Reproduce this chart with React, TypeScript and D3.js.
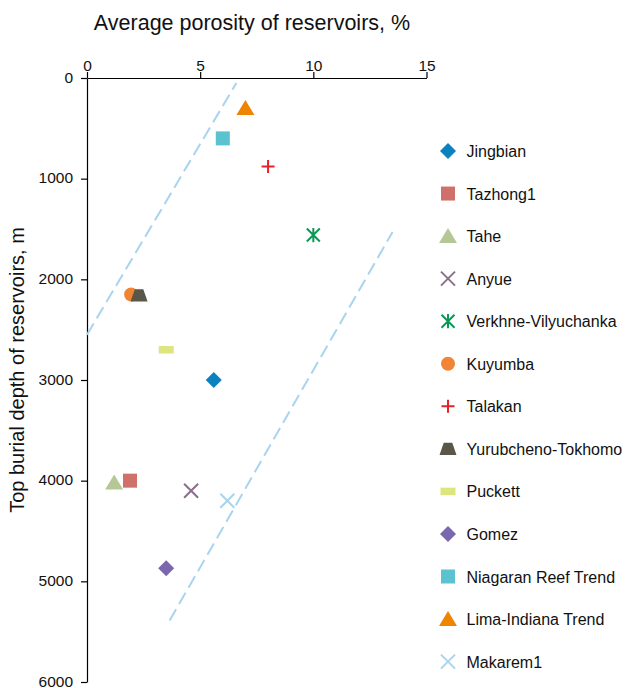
import {useEffect, useRef} from 'react';
import * as d3 from 'd3';

// chart data
const fields = [
  'Jingbian', 'Tazhong1', 'Tahe', 'Anyue', 'Verkhne-Vilyuchanka', 'Kuyumba', 'Talakan',
  'Yurubcheno-Tokhomo', 'Puckett', 'Gomez', 'Niagaran Reef Trend', 'Lima-Indiana Trend', 'Makarem1'
];
const porosity = [5.6, 1.9, 1.2, 4.6, 10.0, 1.95, 8.0, 2.3, 3.5, 3.5, 6.0, 7.0, 6.2];
const depth = [3000, 4000, 4020, 4100, 1560, 2150, 880, 2160, 2700, 4870, 600, 300, 4200];
const colors = [
  '#0a82c0', '#d0706a', '#b6c796', '#8b6f8a', '#0a9a55', '#ef8535', '#e2242a',
  '#5a5749', '#dde57f', '#7a67ad', '#5bc2cf', '#ef8400', '#a8d4ee'
];
const shapes = [
  'diamond', 'square', 'triangle', 'x', 'asterisk', 'circle', 'plus',
  'trapezoid', 'bar', 'diamond', 'square', 'triangle', 'x'
];

// dashed envelope lines (porosity, depth)
const upperLine = [[0, 2550], [6.6, 50]];
const lowerLine = [[3.65, 5390], [13.5, 1530]];

const xTicks = [0, 5, 10, 15];
const yTicks = [0, 1000, 2000, 3000, 4000, 5000, 6000];

const symbolTypes = {
  diamond: {draw(ctx, s) { const r = s / 2; ctx.moveTo(0, -r); ctx.lineTo(r, 0); ctx.lineTo(0, r); ctx.lineTo(-r, 0); ctx.closePath(); }},
  square: {draw(ctx, s) { const r = s / 2; ctx.rect(-r, -r, s, s); }},
  triangle: {draw(ctx, s) { ctx.moveTo(0, -s * 0.45); ctx.lineTo(s / 2, s * 0.38); ctx.lineTo(-s / 2, s * 0.38); ctx.closePath(); }},
  circle: {draw(ctx, s) { const r = s / 2; ctx.moveTo(r, 0); ctx.arc(0, 0, r, 0, 2 * Math.PI); }},
  trapezoid: {draw(ctx, s) { ctx.moveTo(-s * 0.25, -s * 0.36); ctx.lineTo(s * 0.25, -s * 0.36); ctx.lineTo(s / 2, s * 0.36); ctx.lineTo(-s / 2, s * 0.36); ctx.closePath(); }},
  bar: {draw(ctx, s) { ctx.rect(-s / 2, -s * 0.25, s, s * 0.5); }},
  plus: {draw(ctx, s) { const r = s / 2; ctx.moveTo(-r, 0); ctx.lineTo(r, 0); ctx.moveTo(0, -r); ctx.lineTo(0, r); }},
  x: {draw(ctx, s) { const r = s / 2; ctx.moveTo(-r, -r); ctx.lineTo(r, r); ctx.moveTo(-r, r); ctx.lineTo(r, -r); }},
  asterisk: {draw(ctx, s) { const r = s / 2; ctx.moveTo(-r, -r); ctx.lineTo(r, r); ctx.moveTo(-r, r); ctx.lineTo(r, -r); ctx.moveTo(0, -r * 1.1); ctx.lineTo(0, r * 1.1); }},
};
const shapeSize = {diamond: 16, square: 14, triangle: 18, circle: 14, trapezoid: 17, bar: 15, plus: 13, x: 14, asterisk: 13};
const stroked = ['plus', 'x', 'asterisk'];
const font = '"Liberation Sans", Arial, sans-serif';

const Chart = () => {
  const svgRef = useRef(null);

  useEffect(() => {
    const width = 630;
    const height = 688;
    const margin = {top: 78, left: 87};
    const svg = d3.select(svgRef.current).attr('width', width).attr('height', height);
    svg.selectAll('*').remove();

    const xScale = d3.scaleLinear().domain([0, 15]).range([margin.left, 426.5]);
    const yScale = d3.scaleLinear().domain([0, 6000]).range([margin.top, 682]);

    // axes
    const xAxis = svg.append('g')
      .attr('transform', `translate(0, ${margin.top})`)
      .call(d3.axisTop(xScale).tickValues(xTicks).tickSize(6).tickSizeOuter(0).tickFormat(d3.format('d')));
    const yAxis = svg.append('g')
      .attr('transform', `translate(${margin.left}, 0)`)
      .call(d3.axisLeft(yScale).tickValues(yTicks).tickSize(6).tickSizeOuter(0).tickFormat(d3.format('d')));
    [xAxis, yAxis].forEach(a => {
      a.select('.domain').attr('stroke', '#000').attr('stroke-width', 1.2);
      a.selectAll('.tick line').attr('stroke', '#000').attr('stroke-width', 1.2);
      a.selectAll('text')
        .style('font-family', font)
        .style('font-size', '15.5px')
        .attr('fill', '#111');
    });
    xAxis.selectAll('text').attr('dy', '0em').attr('y', -7);
    yAxis.selectAll('text').attr('x', -14).attr('dy', '0.26em');

    // titles
    svg.append('text')
      .attr('x', 252)
      .attr('y', 30)
      .attr('text-anchor', 'middle')
      .style('font-family', font)
      .style('font-size', '21.5px')
      .attr('fill', '#111')
      .text('Average porosity of reservoirs, %');
    svg.append('text')
      .attr('transform', `translate(24, 370) rotate(-90)`)
      .attr('text-anchor', 'middle')
      .style('font-family', font)
      .style('font-size', '20px')
      .attr('fill', '#111')
      .text('Top burial depth of reservoirs, m');

    // dashed lines
    const line = d3.line().x(d => xScale(d[0])).y(d => yScale(d[1]));
    [upperLine, lowerLine].forEach(pts => {
      svg.append('path')
        .attr('d', line(pts))
        .attr('fill', 'none')
        .attr('stroke', '#a8d4ee')
        .attr('stroke-width', 2)
        .attr('stroke-dasharray', '13 6');
    });

    const sym = shape => d3.symbol().type(symbolTypes[shape]).size(shapeSize[shape])();
    const styleMark = (sel, i) => {
      const isStroke = stroked.includes(shapes[i]);
      sel.attr('fill', isStroke ? 'none' : colors[i])
        .attr('stroke', isStroke ? colors[i] : 'none')
        .attr('stroke-width', isStroke ? 2 : 0);
    };

    // points
    fields.forEach((f, i) => {
      const p = svg.append('path')
        .attr('d', sym(shapes[i]))
        .attr('transform', `translate(${xScale(porosity[i])}, ${yScale(depth[i])})`);
      styleMark(p, i);
    });

    // legend
    const legend = svg.append('g').attr('transform', 'translate(448, 151)');
    fields.forEach((f, i) => {
      const row = legend.append('g').attr('transform', `translate(0, ${i * 42.55})`);
      const p = row.append('path').attr('d', sym(shapes[i]));
      styleMark(p, i);
      row.append('text')
        .attr('x', 18.5)
        .attr('y', 6)
        .style('font-family', font)
        .style('font-size', '16px')
        .attr('fill', '#111')
        .text(f);
    });
  }, []);

  return <svg ref={svgRef} style={{position: 'absolute', left: 0, top: 0, background: '#fff'}}/>;
};

export default function App() {
  return <Chart/>;
}
